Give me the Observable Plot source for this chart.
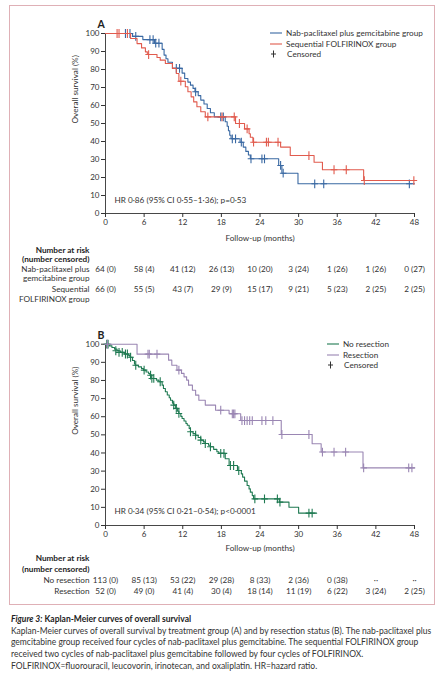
<!DOCTYPE html>
<html>
<head>
<meta charset="utf-8">
<script src="https://cdn.jsdelivr.net/npm/d3@7"></script>
<script src="https://cdn.jsdelivr.net/npm/@observablehq/plot@0.6"></script>
<style>
  html, body { margin: 0; padding: 0; background: #fff; }
  #root { position: relative; width: 439px; height: 680px; overflow: hidden; font-family: Lato, "Open Sans", sans-serif; color: #333; }
  #frame { position: absolute; left: 9px; top: 5px; width: 426px; height: 600px; border: 1px solid #dfb0b6; box-sizing: border-box; }
  .plot { position: absolute; left: 0; }
  .legend { position: absolute; font-size: 8.2px; line-height: 10.5px; color: #333; white-space: nowrap; }
  .legend div { display: flex; align-items: center; height: 10.5px; }
  .legend svg { margin-right: 3px; }
  #caption { position: absolute; left: 11px; top: 613.8px; width: 425px; font-size: 8.5px; line-height: 11.8px; color: #333; white-space: nowrap; }
  #caption .t { font-weight: bold; color: #222; }
</style>
</head>
<body>
<div id="root">
  <div id="frame"></div>
  <div id="caption"></div>
</div>
<script>
// ---------- data ----------
const months = [0, 6, 12, 18, 24, 30, 36, 42, 48];
const yTicks = [0, 10, 20, 30, 40, 50, 60, 70, 80, 90, 100];

// Panel A: treatment groups (time in months, overall survival %)
const nabSteps = [[0,100],[4.2,98.4],[5.8,96.6],[7.6,94.6],[8.8,91.2],[9.1,88.0],[9.4,86.0],[9.7,84.0],[10.4,80.6],[11.9,78.0],[12.3,75.0],[12.8,73.0],[13.2,71.3],[13.6,69.5],[13.9,67.6],[14.4,65.5],[14.8,63.0],[15.3,60.8],[15.8,58.3],[16.3,56.0],[16.9,53.7],[18.6,51.0],[18.9,48.5],[19.1,46.0],[19.3,43.5],[19.5,41.5],[20.9,39.6],[21.4,36.9],[21.8,34.5],[22.2,32.5],[22.5,30.4],[26.9,26.7],[27.4,22.4],[29.9,16.5],[48,16.5]];
const nabCensored = [[3.1,100],[3.8,100],[4.7,98.4],[6.9,96.6],[7.4,96.6],[7.8,94.6],[8.3,94.6],[11.0,80.6],[11.5,80.6],[14.0,67.6],[17.9,53.7],[18.3,53.7],[19.7,41.5],[20.2,41.5],[21.1,39.6],[22.6,30.4],[24.3,30.4],[24.7,30.4],[27.2,26.7],[27.6,22.4],[32.5,16.5],[33.9,16.5],[47.2,16.5]];

const seqSteps = [[0,100],[3.9,97.2],[4.9,94.4],[5.6,92.0],[6.2,89.8],[6.5,88.3],[8.0,86.7],[8.5,85.2],[9.3,83.3],[10.4,80.6],[11.0,77.8],[11.4,73.5],[12.4,70.4],[12.8,67.6],[13.3,64.8],[13.7,62.0],[14.2,59.3],[14.8,56.5],[15.5,53.7],[20.2,50.0],[21.6,47.0],[22.3,44.3],[22.5,42.4],[22.9,39.6],[27.2,36.9],[28.7,32.2],[32.4,28.5],[33.7,24.3],[40.1,18.3],[48,18.3]];
const seqCensored = [[1.8,100],[2.1,100],[3.4,100],[6.7,88.3],[11.7,73.5],[15.9,53.7],[18.1,53.7],[20.0,53.7],[20.8,50.0],[22.0,47.0],[23.0,39.6],[25.0,39.6],[25.3,39.6],[26.8,39.6],[31.6,32.2],[35.5,24.3],[37.4,24.3],[40.2,18.3],[47.9,18.3]];

// Panel B: resection status
const noResSteps = [[0,100],[0.6,99.1],[1.0,98.2],[1.4,97.3],[1.8,96.4],[2.3,95.5],[2.9,94.6],[3.6,93.7],[3.8,92.8],[4.2,91.0],[4.5,89.2],[4.6,88.4],[5.1,87.5],[5.6,86.6],[5.9,85.7],[6.3,84.7],[6.7,83.8],[6.9,82.9],[7.1,81.1],[7.9,80.2],[8.3,79.3],[8.8,77.4],[9.0,75.6],[9.3,73.8],[9.6,72.0],[9.9,70.5],[10.1,69.1],[10.4,67.5],[10.6,66.4],[10.9,64.6],[11.2,63.0],[11.4,61.8],[11.7,60.2],[11.9,59.0],[12.2,57.6],[12.5,56.3],[12.7,55.3],[13.0,53.5],[13.2,51.7],[13.6,50.7],[14.0,49.8],[14.4,48.5],[14.8,47.1],[15.2,46.1],[15.5,45.2],[16.0,44.3],[16.3,43.4],[16.8,42.0],[17.3,40.7],[17.6,39.8],[18.6,36.8],[19.2,33.1],[20.5,30.3],[21.1,28.5],[21.3,26.7],[21.6,24.5],[22.0,22.1],[22.3,20.2],[22.5,18.4],[22.8,16.5],[23.0,14.7],[27.0,12.9],[28.5,10.1],[30.0,6.8],[32.8,6.8]];
const noResCensored = [[0.2,100],[0.4,100],[1.6,96.4],[2.1,95.5],[2.6,95.5],[3.1,94.6],[3.4,94.6],[3.9,92.8],[4.7,88.4],[6.0,85.7],[7.0,82.9],[7.2,81.1],[7.5,81.1],[8.5,79.3],[10.6,66.4],[11.0,64.6],[11.4,61.8],[13.2,51.7],[14.0,49.8],[14.8,47.1],[15.5,45.2],[16.3,43.4],[17.9,39.8],[18.4,39.8],[19.4,33.1],[19.9,33.1],[20.7,30.3],[23.2,14.7],[24.7,14.7],[26.7,14.7],[27.1,12.9],[31.6,6.8],[32.1,6.8]];

const resSteps = [[0,100],[4.9,94.5],[9.8,91.2],[10.3,88.4],[11.1,85.7],[11.8,83.9],[12.2,82.0],[12.6,80.2],[12.9,77.4],[13.5,74.6],[14.0,71.9],[14.5,69.1],[15.5,66.4],[17.1,63.6],[19.2,61.6],[21.0,57.9],[27.3,50.2],[32.1,45.1],[33.5,40.5],[40.0,31.8],[48,31.8]];
const resCensored = [[0.3,100],[6.6,94.5],[6.8,94.5],[8.0,94.5],[11.4,85.7],[17.9,63.6],[19.7,61.6],[19.9,61.6],[20.1,61.6],[21.2,57.9],[21.6,57.9],[22.0,57.9],[22.4,57.9],[22.8,57.9],[24.3,57.9],[24.9,57.9],[26.0,57.9],[27.4,50.2],[31.6,50.2],[33.7,40.5],[35.5,40.5],[37.3,40.5],[40.1,31.8],[47.1,31.8],[47.6,31.8]];

// numbers at risk (number censored)
const riskNab = ["64 (0)","58 (4)","41 (12)","26 (13)","10 (20)","3 (24)","1 (26)","1 (26)","0 (27)"];
const riskSeq = ["66 (0)","55 (5)","43 (7)","29 (9)","15 (17)","9 (21)","5 (23)","2 (25)","2 (25)"];
const riskNoRes = ["113 (0)","85 (13)","53 (22)","29 (28)","8 (33)","2 (36)","0 (38)","··","··"];
const riskRes = ["52 (0)","49 (0)","41 (4)","30 (4)","18 (14)","11 (19)","6 (22)","3 (24)","2 (25)"];

const colors = { nab: "#3a69a3", seq: "#e15b4e", noRes: "#1f7a52", res: "#9a86b3" };
const ink = "#333";

// censor mark: a small plus drawn with strokes
const plusSymbol = {
  draw(ctx, size) {
    const r = Math.sqrt(size / Math.PI);
    ctx.moveTo(-r * 0.75, 0); ctx.lineTo(r * 0.75, 0);
    ctx.moveTo(0, -r); ctx.lineTo(0, r);
  }
};

function kmPanel(o) {
  const marks = [
    Plot.ruleX([0], {stroke: ink, strokeWidth: 0.9}),
    Plot.ruleY([0], {stroke: ink, strokeWidth: 0.9}),
    Plot.axisX({ticks: months, tickSize: 4, tickPadding: 2, label: null, fontSize: 8, stroke: ink, color: ink}),
    Plot.axisY({ticks: yTicks, tickSize: 4, tickPadding: 2, label: null, fontSize: 8, stroke: ink, color: ink}),
  ];
  for (const s of o.series) {
    marks.push(Plot.line(s.steps, {x: d => d[0], y: d => d[1], curve: "step-after", stroke: s.color, strokeWidth: 1.1}));
    marks.push(Plot.dot(s.censored, {x: d => d[0], y: d => d[1], symbol: plusSymbol, r: 4.4, stroke: s.color, fill: "none", strokeWidth: 1.1}));
  }
  marks.push(
    Plot.text([o.letter], {frameAnchor: "top-left", dx: -8, dy: o.letterDy, fontSize: 10.5, fontWeight: "bold", fill: "#222"}),
    Plot.text(["Overall survival (%)"], {frameAnchor: "left", rotate: -90, dx: -30, fontSize: 8.2, fill: ink}),
    Plot.text(["Follow-up (months)"], {frameAnchor: "bottom", dy: o.followDy, fontSize: 8.2, fill: ink}),
    Plot.text([o.hr], {frameAnchor: "bottom-left", dx: 9, dy: o.hrDy, textAnchor: "start", fontSize: 8.2, fill: ink}),
    Plot.text(["Number at risk"], {frameAnchor: "bottom-left", dx: -16, dy: o.riskDy[0], textAnchor: "end", fontSize: 8.2, fontWeight: "bold", fill: "#222"}),
    Plot.text(["(number censored)"], {frameAnchor: "bottom-left", dx: -16, dy: o.riskDy[1], textAnchor: "end", fontSize: 8.2, fontWeight: "bold", fill: "#222"})
  );
  o.rows.forEach(row => {
    row.label.forEach((line, j) => {
      marks.push(Plot.text([line], {frameAnchor: "bottom-left", dx: -16, dy: row.dy + j * row.lh, textAnchor: "end", fontSize: 8.2, fill: ink}));
    });
    marks.push(Plot.text(months, {x: d => d, text: (d, i) => row.values[i], frameAnchor: "bottom", dy: row.dy, fontSize: 8.2, fill: ink}));
  });
  return Plot.plot({
    width: 439, height: o.height,
    marginLeft: 105, marginRight: 25, marginTop: o.marginTop, marginBottom: o.marginBottom,
    x: {domain: [0, 48]},
    y: {domain: [0, 100]},
    style: {fontFamily: "Lato, 'Open Sans', sans-serif", fontSize: "8px", color: ink, background: "transparent", overflow: "visible"},
    marks
  });
}

const root = document.getElementById("root");

const plotA = kmPanel({
  height: 310, marginTop: 33, marginBottom: 97,
  letter: "A", letterDy: -13,
  followDy: 27, hrDy: -10.3,
  hr: "HR 0·86 (95% CI 0·55–1·36); p=0·53",
  riskDy: [39.7, 48.7],
  series: [
    {steps: nabSteps, censored: nabCensored, color: colors.nab},
    {steps: seqSteps, censored: seqCensored, color: colors.seq}
  ],
  rows: [
    {label: ["Nab-paclitaxel plus", "gemcitabine group"], values: riskNab, dy: 58.7, lh: 8.6},
    {label: ["Sequential", "FOLFIRINOX group"], values: riskSeq, dy: 78.7, lh: 9.3}
  ]
});
plotA.classList.add("plot");
plotA.style.top = "0px";
root.appendChild(plotA);

const plotB = kmPanel({
  height: 300, marginTop: 33.7, marginBottom: 85,
  letter: "B", letterDy: -13,
  followDy: 25.7, hrDy: -11.7,
  hr: "HR 0·34 (95% CI 0·21–0·54); p<0·0001",
  riskDy: [35.7, 46.7],
  series: [
    {steps: noResSteps, censored: noResCensored, color: colors.noRes},
    {steps: resSteps, censored: resCensored, color: colors.res}
  ],
  rows: [
    {label: ["No resection"], values: riskNoRes, dy: 57.7, lh: 0},
    {label: ["Resection"], values: riskRes, dy: 68.3, lh: 0}
  ]
});
plotB.classList.add("plot");
plotB.style.top = "310px";
root.appendChild(plotB);

// legends
function legend(left, top, items) {
  const div = document.createElement("div");
  div.className = "legend";
  div.style.left = left + "px";
  div.style.top = top + "px";
  for (const it of items) {
    const row = document.createElement("div");
    const sw = it.censor
      ? `<svg width="13" height="10"><path d="M3.5,1.5V8.5M1,5H6" stroke="${ink}" stroke-width="1" fill="none"/></svg>`
      : `<svg width="13" height="10"><line x1="0" x2="12" y1="5" y2="5" stroke="${it.color}" stroke-width="1.1"/></svg>`;
    row.innerHTML = sw + `<span style="${it.censor ? "margin-left:1px" : ""}">${it.label}</span>`;
    div.appendChild(row);
  }
  root.appendChild(div);
}
legend(270, 28, [
  {label: "Nab-paclitaxel plus gemcitabine group", color: colors.nab},
  {label: "Sequential FOLFIRINOX group", color: colors.seq},
  {label: "Censored", censor: true}
]);
legend(327, 339, [
  {label: "No resection", color: colors.noRes},
  {label: "Resection", color: colors.res},
  {label: "Censored", censor: true}
]);

// caption
document.getElementById("caption").innerHTML =
  `<div class="t"><i>Figure 3:</i> Kaplan-Meier curves of overall survival</div>` +
  `<div>Kaplan-Meier curves of overall survival by treatment group (A) and by resection status (B). The nab-paclitaxel plus</div>` +
  `<div>gemcitabine group received four cycles of nab-paclitaxel plus gemcitabine. The sequential FOLFIRINOX group</div>` +
  `<div>received two cycles of nab-paclitaxel plus gemcitabine followed by four cycles of FOLFIRINOX.</div>` +
  `<div>FOLFIRINOX=fluorouracil, leucovorin, irinotecan, and oxaliplatin. HR=hazard ratio.</div>`;
</script>
</body>
</html>
